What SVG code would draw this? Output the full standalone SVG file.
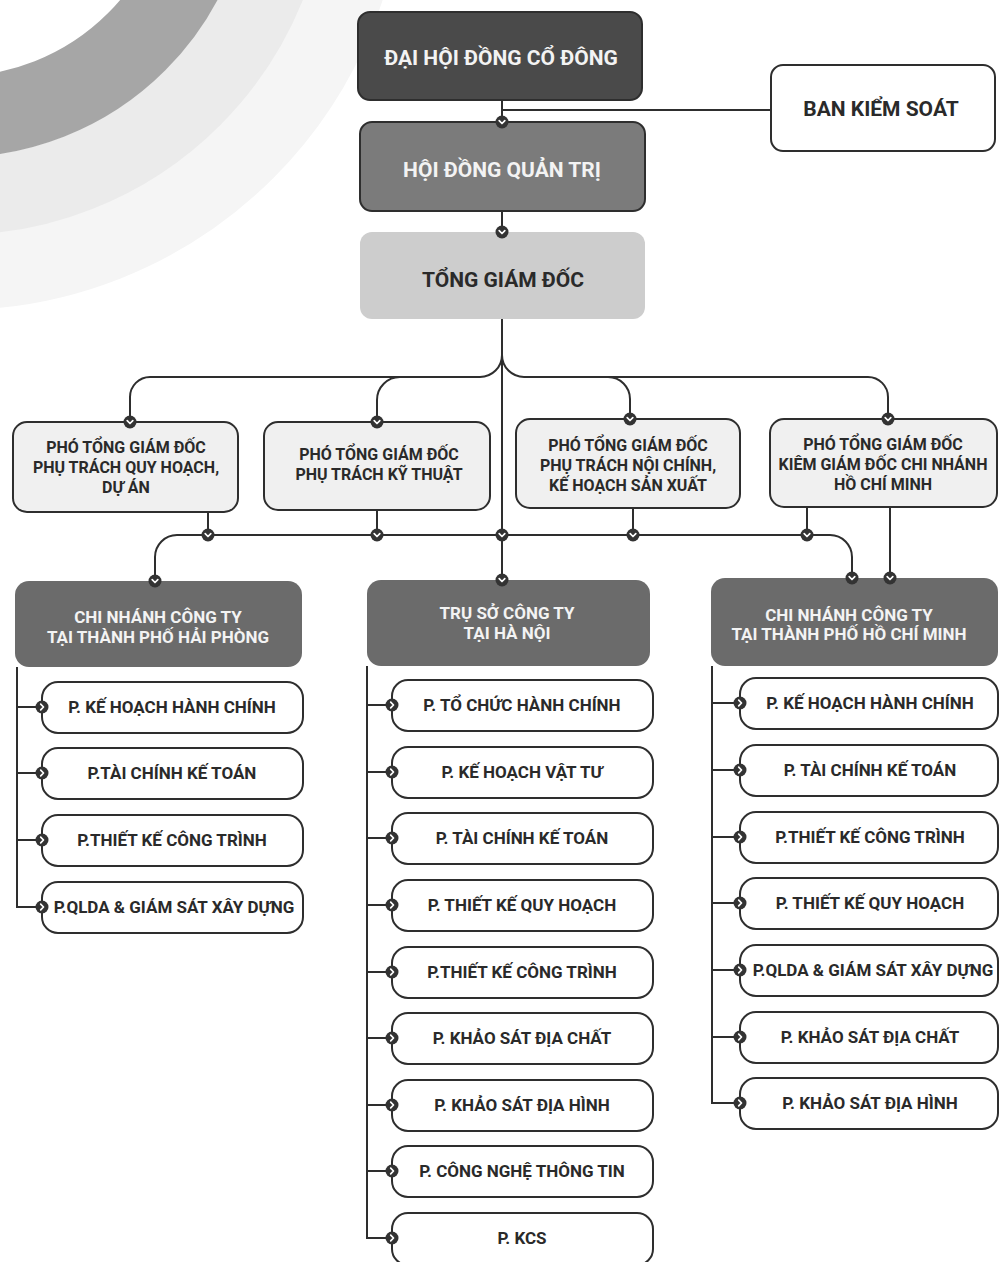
<svg xmlns="http://www.w3.org/2000/svg" width="1000" height="1262" viewBox="0 0 1000 1262">
<style>
.ln{stroke:#2e2e2e;stroke-width:2;fill:none}
.box{stroke:#2e2e2e;stroke-width:2}
.item{fill:#fff;stroke:#2e2e2e;stroke-width:2}
.t{font-family:Roboto,"Liberation Sans",sans-serif;font-weight:700;text-anchor:middle}
.big{font-size:21px}
.mid{font-size:16px}
.hd{font-size:17px}
.it{font-size:17px}
.w{fill:#f3f3f3}
.d{fill:#2a2a2a}
</style>
<defs>
<g id="md"><circle r="6.5" fill="#333"/><path d="M-2.8,-1.3 L0,1.5 L2.8,-1.3" stroke="#fff" stroke-width="1.7" fill="none" stroke-linecap="round" stroke-linejoin="round"/></g>
<g id="mr"><circle r="6.5" fill="#333"/><path d="M-1.3,-2.8 L1.5,0 L-1.3,2.8" stroke="#fff" stroke-width="1.7" fill="none" stroke-linecap="round" stroke-linejoin="round"/></g>
</defs>
<rect width="1000" height="1262" fill="#fff"/>
<g id="background">
<circle cx="-45" cy="-140" r="412" fill="none" stroke="#f5f5f5" stroke-width="76"/>
<circle cx="-45" cy="-140" r="336" fill="none" stroke="#ebebeb" stroke-width="78"/>
<circle cx="-45" cy="-140" r="257" fill="none" stroke="#a6a6a6" stroke-width="81"/>
</g>
<g id="connectors">
<path class="ln" d="M502,100 V122 M502,110 H771 M502,211 V232 M502,319 V580"/>
<path class="ln" d="M502,355 A22,22 0 0 1 480,377 H150 A20,20 0 0 0 130,397 V422"/>
<path class="ln" d="M400,377 A23,23 0 0 0 377,400 V422"/>
<path class="ln" d="M502,355 A22,22 0 0 0 524,377 H868 A20,20 0 0 1 888,397 V419"/>
<path class="ln" d="M608,377 A22,22 0 0 1 630,399 V419"/>
<path class="ln" d="M208,512 V535 M377,510 V535 M633,508 V535 M807,507 V535 M890,507 V578"/>
<path class="ln" d="M155,581 V557 A22,22 0 0 1 177,535 H830 A22,22 0 0 1 852,557 V578"/>
<path class="ln" d="M17,667 V907 H42 M17,707 H42 M17,773 H42 M17,840 H42"/>
<path class="ln" d="M367,666 V1238 H392 M367,705 H392 M367,772 H392 M367,838 H392 M367,905 H392 M367,972 H392 M367,1038 H392 M367,1105 H392 M367,1171 H392"/>
<path class="ln" d="M712,666 V1103 H740 M712,703 H740 M712,770 H740 M712,837 H740 M712,903 H740 M712,970 H740 M712,1037 H740"/>
</g>
<g id="n-dhdcd"><rect class="box" x="358" y="12" width="284" height="88" rx="12" fill="#4a4a4a"/><text class="t big w" x="501" y="65">ĐẠI HỘI ĐỒNG CỔ ĐÔNG</text></g>
<g id="n-bks"><rect class="box" x="771" y="65" width="224" height="86" rx="12" fill="#fff"/><text class="t big d" x="881" y="116">BAN KIỂM SOÁT</text></g>
<g id="n-hdqt"><rect class="box" x="360" y="122" width="285" height="89" rx="12" fill="#7b7b7b" stroke="#6a6a6a"/><text class="t big w" x="502" y="177">HỘI ĐỒNG QUẢN TRỊ</text></g>
<g id="n-tgd"><rect x="360" y="232" width="285" height="87" rx="12" fill="#cdcdcd"/><text class="t big d" x="503" y="287">TỔNG GIÁM ĐỐC</text></g>
<g id="n-pgd1"><rect class="box" x="13" y="422" width="225" height="90" rx="14" fill="#f0f0f0"/><text class="t mid d" x="126" y="453">PHÓ TỔNG GIÁM ĐỐC</text><text class="t mid d" x="126" y="473">PHỤ TRÁCH QUY HOẠCH,</text><text class="t mid d" x="126" y="493">DỰ ÁN</text></g>
<g id="n-pgd2"><rect class="box" x="264" y="422" width="226" height="88" rx="14" fill="#f0f0f0"/><text class="t mid d" x="379" y="460">PHÓ TỔNG GIÁM ĐỐC</text><text class="t mid d" x="379" y="480">PHỤ TRÁCH KỸ THUẬT</text></g>
<g id="n-pgd3"><rect class="box" x="516" y="419" width="224" height="89" rx="14" fill="#f0f0f0"/><text class="t mid d" x="628" y="451">PHÓ TỔNG GIÁM ĐỐC</text><text class="t mid d" x="628" y="471">PHỤ TRÁCH NỘI CHÍNH,</text><text class="t mid d" x="628" y="491">KẾ HOẠCH SẢN XUẤT</text></g>
<g id="n-pgd4"><rect class="box" x="770" y="419" width="227" height="88" rx="14" fill="#f0f0f0"/><text class="t mid d" x="883" y="450">PHÓ TỔNG GIÁM ĐỐC</text><text class="t mid d" x="883" y="470">KIÊM GIÁM ĐỐC CHI NHÁNH</text><text class="t mid d" x="883" y="490">HỒ CHÍ MINH</text></g>
<g id="n-hp"><rect x="15" y="581" width="287" height="86" rx="14" fill="#6b6b6b"/><text class="t hd w" x="158" y="623">CHI NHÁNH CÔNG TY</text><text class="t hd w" x="158" y="643">TẠI THÀNH PHỐ HẢI PHÒNG</text></g>
<g id="n-ts"><rect x="367" y="580" width="283" height="86" rx="14" fill="#6b6b6b"/><text class="t hd w" x="507" y="619">TRỤ SỞ CÔNG TY</text><text class="t hd w" x="507" y="639">TẠI HÀ NỘI</text></g>
<g id="n-hcm"><rect x="711" y="578" width="287" height="88" rx="14" fill="#6b6b6b"/><text class="t hd w" x="849" y="621">CHI NHÁNH CÔNG TY</text><text class="t hd w" x="849" y="640">TẠI THÀNH PHỐ HỒ CHÍ MINH</text></g>
<g id="hp-items">
<g id="hp1"><rect class="item" x="42" y="682" width="261" height="51" rx="16"/><text class="t it d" x="172" y="713">P. KẾ HOẠCH HÀNH CHÍNH</text></g>
<g id="hp2"><rect class="item" x="42" y="748" width="261" height="51" rx="16"/><text class="t it d" x="172" y="779">P.TÀI CHÍNH KẾ TOÁN</text></g>
<g id="hp3"><rect class="item" x="42" y="815" width="261" height="51" rx="16"/><text class="t it d" x="172" y="846">P.THIẾT KẾ CÔNG TRÌNH</text></g>
<g id="hp4"><rect class="item" x="42" y="882" width="261" height="51" rx="16"/><text class="t it d" x="174" y="913">P.QLDA &amp; GIÁM SÁT XÂY DỰNG</text></g>
</g>
<g id="ts-items">
<g id="ts1"><rect class="item" x="392" y="680" width="261" height="51" rx="16"/><text class="t it d" x="522" y="711">P. TỔ CHỨC HÀNH CHÍNH</text></g>
<g id="ts2"><rect class="item" x="392" y="747" width="261" height="51" rx="16"/><text class="t it d" x="522" y="778">P. KẾ HOẠCH VẬT TƯ</text></g>
<g id="ts3"><rect class="item" x="392" y="813" width="261" height="51" rx="16"/><text class="t it d" x="522" y="844">P. TÀI CHÍNH KẾ TOÁN</text></g>
<g id="ts4"><rect class="item" x="392" y="880" width="261" height="51" rx="16"/><text class="t it d" x="522" y="911">P. THIẾT KẾ QUY HOẠCH</text></g>
<g id="ts5"><rect class="item" x="392" y="947" width="261" height="51" rx="16"/><text class="t it d" x="522" y="978">P.THIẾT KẾ CÔNG TRÌNH</text></g>
<g id="ts6"><rect class="item" x="392" y="1013" width="261" height="51" rx="16"/><text class="t it d" x="522" y="1044">P. KHẢO SÁT ĐỊA CHẤT</text></g>
<g id="ts7"><rect class="item" x="392" y="1080" width="261" height="51" rx="16"/><text class="t it d" x="522" y="1111">P. KHẢO SÁT ĐỊA HÌNH</text></g>
<g id="ts8"><rect class="item" x="392" y="1146" width="261" height="51" rx="16"/><text class="t it d" x="522" y="1177">P. CÔNG NGHỆ THÔNG TIN</text></g>
<g id="ts9"><rect class="item" x="392" y="1213" width="261" height="52" rx="16"/><text class="t it d" x="522" y="1244">P. KCS</text></g>
</g>
<g id="hcm-items">
<g id="hcm1"><rect class="item" x="740" y="678" width="258" height="51" rx="16"/><text class="t it d" x="870" y="709">P. KẾ HOẠCH HÀNH CHÍNH</text></g>
<g id="hcm2"><rect class="item" x="740" y="745" width="258" height="51" rx="16"/><text class="t it d" x="870" y="776">P. TÀI CHÍNH KẾ TOÁN</text></g>
<g id="hcm3"><rect class="item" x="740" y="812" width="258" height="51" rx="16"/><text class="t it d" x="870" y="843">P.THIẾT KẾ CÔNG TRÌNH</text></g>
<g id="hcm4"><rect class="item" x="740" y="878" width="258" height="51" rx="16"/><text class="t it d" x="870" y="909">P. THIẾT KẾ QUY HOẠCH</text></g>
<g id="hcm5"><rect class="item" x="740" y="945" width="258" height="51" rx="16"/><text class="t it d" x="873" y="976">P.QLDA &amp; GIÁM SÁT XÂY DỰNG</text></g>
<g id="hcm6"><rect class="item" x="740" y="1012" width="258" height="51" rx="16"/><text class="t it d" x="870" y="1043">P. KHẢO SÁT ĐỊA CHẤT</text></g>
<g id="hcm7"><rect class="item" x="740" y="1078" width="258" height="51" rx="16"/><text class="t it d" x="870" y="1109">P. KHẢO SÁT ĐỊA HÌNH</text></g>
</g>
<g id="markers">
<use href="#md" x="502" y="122"/><use href="#md" x="502" y="232"/>
<use href="#md" x="130" y="422"/><use href="#md" x="377" y="422"/><use href="#md" x="630" y="419"/><use href="#md" x="888" y="419"/>
<use href="#md" x="208" y="535"/><use href="#md" x="377" y="535"/><use href="#md" x="502" y="535"/><use href="#md" x="633" y="535"/><use href="#md" x="807" y="535"/>
<use href="#md" x="155" y="581"/><use href="#md" x="502" y="580"/><use href="#md" x="852" y="578"/><use href="#md" x="890" y="578"/>
<use href="#mr" x="42" y="707"/><use href="#mr" x="42" y="773"/><use href="#mr" x="42" y="840"/><use href="#mr" x="42" y="907"/>
<use href="#mr" x="392" y="705"/><use href="#mr" x="392" y="772"/><use href="#mr" x="392" y="838"/><use href="#mr" x="392" y="905"/><use href="#mr" x="392" y="972"/><use href="#mr" x="392" y="1038"/><use href="#mr" x="392" y="1105"/><use href="#mr" x="392" y="1171"/><use href="#mr" x="392" y="1238"/>
<use href="#mr" x="740" y="703"/><use href="#mr" x="740" y="770"/><use href="#mr" x="740" y="837"/><use href="#mr" x="740" y="903"/><use href="#mr" x="740" y="970"/><use href="#mr" x="740" y="1037"/><use href="#mr" x="740" y="1103"/>
</g>
</svg>
